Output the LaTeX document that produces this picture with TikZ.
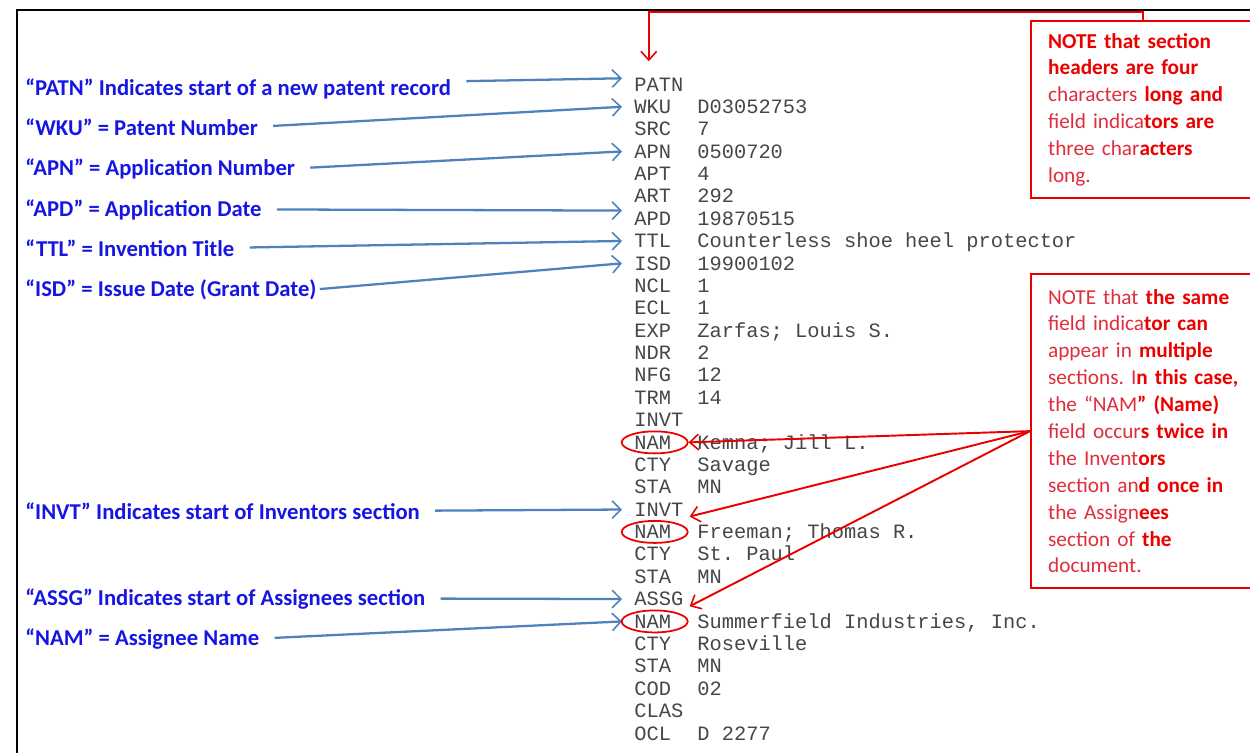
\documentclass[tikz,border=0pt]{standalone}
\usepackage{fontspec}
\setmainfont{Carlito}
\setmonofont{Liberation Mono}
\usetikzlibrary{arrows.meta,positioning,shapes.geometric,calc}
\definecolor{lblblue}{RGB}{22,22,228}
\definecolor{arrowblue}{RGB}{79,129,189}
\definecolor{notered}{RGB}{235,0,0}
\definecolor{notepale}{RGB}{222,45,60}
\definecolor{codegray}{RGB}{70,70,70}
\newcommand{\redbf}[1]{\textbf{\color{notered}#1}}
\frenchspacing
\tikzset{
  fieldlbl/.style={anchor=base west,inner sep=0pt,font=\fontsize{12.9}{14}\selectfont\bfseries,text=lblblue},
  codetag/.style={anchor=base west,inner sep=0pt,font=\ttfamily\fontsize{11.6}{13}\selectfont,text=codegray},
  notebox/.style={draw=notered,line width=1.3pt,anchor=north west,align=left,text width=4.12cm,
    inner xsep=0.34cm,minimum width=4.8cm,font=\fontsize{12.1}{15.3}\selectfont,text=notepale},
  namering/.style={ellipse,draw=notered,line width=1pt,minimum width=1.32cm,minimum height=0.44cm,inner sep=0pt},
  fieldarrow/.style={draw=arrowblue,line width=1.3pt,shorten <=0.3cm,
    -{Straight Barb[length=5pt,width=10pt,line width=0.9pt]}},
  notearrow/.style={draw=notered,line width=1.1pt,-{Straight Barb[length=5pt,width=9pt,line width=0.9pt]}},
}
\begin{document}
\begin{tikzpicture}[x=0.02cm,y=-0.02cm]
\useasboundingbox (0,0) rectangle (1250,752);
% frame
\draw[line width=1.4pt] (17,770) -- (17,10) -- (1270,10);

% record listing
\foreach \tag/\val [count=\i] in {PATN/{},WKU/D03052753,SRC/7,APN/0500720,APT/4,ART/292,
    APD/19870515,TTL/Counterless shoe heel protector,ISD/19900102,NCL/1,ECL/1,
    EXP/Zarfas; Louis S.,NDR/2,NFG/12,TRM/14,INVT/{},NAM/Kemna; Jill L.,CTY/Savage,
    STA/MN,INVT/{},NAM/Freeman; Thomas R.,CTY/St. Paul,STA/MN,ASSG/{},
    NAM/{Summerfield Industries, Inc.},CTY/Roseville,STA/MN,COD/02,CLAS/{},OCL/D 2277}{
  \node[codetag] (t\i) at (634,{91+22.38*(\i-1)}) {\tag};
  \node[codetag] (v\i) at (697,{91+22.38*(\i-1)}) {\val};
}

% field labels
\node[fieldlbl] (lpatn) at (25,95) {“PATN” Indicates start of a new patent record};
\node[fieldlbl] (lwku) at (25,135) {“WKU” = Patent Number};
\node[fieldlbl] (lapn) at (25,175) {“APN” = Application Number};
\node[fieldlbl] (lapd) at (25,216) {“APD” = Application Date};
\node[fieldlbl] (lttl) at (25,256) {“TTL” = Invention Title};
\node[fieldlbl] (lisd) at (25,296) {“ISD” = Issue Date (Grant Date)};
\node[fieldlbl] (linvt) at (25,519) {“INVT” Indicates start of Inventors section};
\node[fieldlbl] (lassg) at (25,605) {“ASSG” Indicates start of Assignees section};
\node[fieldlbl] (lnam) at (25,645) {“NAM” = Assignee Name};

\draw[fieldarrow] ([yshift=0.14cm]lpatn.east) -- ([xshift=-0.24cm,yshift=0.12cm]t1.west);
\draw[fieldarrow] (lwku.east) -- ([xshift=-0.24cm]t2.west);
\draw[fieldarrow] (lapn.east) -- ([xshift=-0.24cm]t4.west);
\draw[fieldarrow] (lapd.east) -- ([xshift=-0.24cm,yshift=0.16cm]t7.west);
\draw[fieldarrow] (lttl.east) -- ([xshift=-0.24cm]t8.west);
\draw[fieldarrow,shorten <=0.06cm] (lisd.east) -- ([xshift=-0.24cm]t9.west);
\draw[fieldarrow] (linvt.east) -- ([xshift=-0.24cm]t20.west);
\draw[fieldarrow] (lassg.east) -- ([xshift=-0.24cm]t24.west);
\draw[fieldarrow] (lnam.east) -- ([xshift=-0.24cm]t25.west);

% repeated NAM fields
\node[namering] (e1) at ([xshift=0.04cm]t17.center) {};
\node[namering] (e2) at ([xshift=0.04cm]t21.center) {};
\node[namering] (e3) at ([xshift=0.04cm]t25.center) {};

% notes
\node[notebox,minimum height=3.54cm] (note1) at (1030,20) {%
  \redbf{NOTE that section}\\
  \redbf{headers are four}\\
  characters \redbf{long and}\\
  field indica\redbf{tors are}\\
  three char\redbf{acters}\\
  long.};
\node[notebox,minimum height=6.28cm] (note2) at (1030,273) {%
  NOTE that \redbf{the same}\\
  field indica\redbf{tor can}\\
  appear in \redbf{multiple}\\
  sections. I\redbf{n this case,}\\
  the “NAM\redbf{” (Name)}\\
  field occur\redbf{s twice in}\\
  the Invent\redbf{ors}\\
  section an\redbf{d once in}\\
  the Assign\redbf{ees}\\
  section of \redbf{the}\\
  document.};

\draw[notearrow] ([xshift=2.26cm]note1.north west) -- ++(0,-8) -| ([xshift=-0.2cm,yshift=0.32cm]t1.north);
\draw[notearrow] (note2.west) -- (e1.east);
\draw[notearrow] (note2.west) -- ([xshift=0.12cm]t20.south east);
\draw[notearrow] (note2.west) -- ([xshift=0.12cm]t24.south east);
\end{tikzpicture}
\end{document}
